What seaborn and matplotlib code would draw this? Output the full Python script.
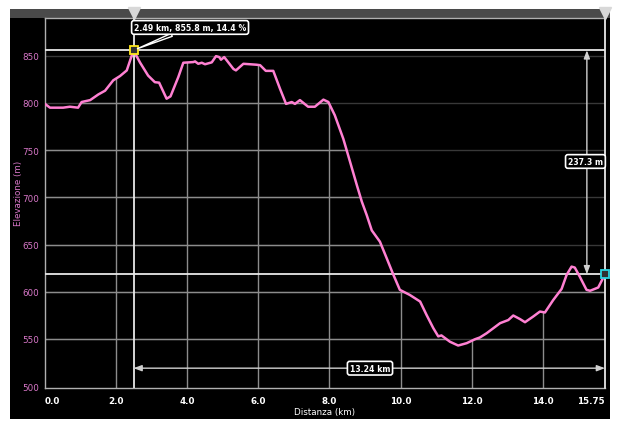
import numpy as np
import pandas as pd
import matplotlib
matplotlib.use('Agg')
import matplotlib.pyplot as plt
from matplotlib.patches import Rectangle, Polygon
import matplotlib.transforms as mtransforms
import seaborn as sns

# profilo altimetrico (km, m)
distanza = [0.00, 0.14, 0.51, 0.70, 0.93, 1.03, 1.27, 1.50, 1.69, 1.92, 2.11, 2.30, 2.49,
            2.67, 2.90, 3.09, 3.21, 3.42, 3.53, 3.75, 3.89, 4.17, 4.22, 4.31, 4.41, 4.50,
            4.69, 4.81, 4.90, 4.95, 5.04, 5.30, 5.37, 5.58, 5.95, 6.05, 6.21, 6.42, 6.61,
            6.78, 6.94, 7.03, 7.17, 7.40, 7.59, 7.83, 7.97, 8.15, 8.39, 8.58, 8.77, 8.91,
            9.05, 9.19, 9.42, 9.61, 9.80, 9.98, 10.26, 10.55, 10.73, 10.92, 11.06, 11.15,
            11.39, 11.62, 11.86, 12.09, 12.23, 12.42, 12.80, 13.03, 13.17, 13.36, 13.50,
            13.73, 13.92, 14.06, 14.29, 14.53, 14.67, 14.81, 14.90, 15.04, 15.23, 15.33,
            15.56, 15.75]
elevazione = [799, 795, 795, 796, 795, 801, 803, 809, 813, 824, 828.5, 834.5, 855.8,
              843, 829, 822, 821.5, 804.5, 807, 827.5, 842.6, 843.3, 844, 841.5, 842.6, 841,
              843, 849.6, 848.6, 845.8, 848.6, 836, 834.5, 841.5, 840.5, 840, 834, 834, 815,
              799, 801, 799, 803, 796, 796, 803.5, 801, 787, 762, 737.6, 713, 695.5,
              681, 665, 653, 635.5, 617.8, 602, 596.6, 589.6, 575.5, 561.5, 552.7, 553.7,
              547, 543, 545.5, 549.6, 551.5, 556, 566.7, 570, 574.8, 571, 567.7,
              573.7, 579, 578, 591, 603, 617.8, 626.6, 625.6, 616, 602, 601,
              604.5, 618.5]

x_ticks = [0, 2, 4, 6, 8, 10, 12, 14, 15.75]
x_labels = ['0.0', '2.0', '4.0', '6.0', '8.0', '10.0', '12.0', '14.0', '15.75']
y_ticks = [500, 550, 600, 650, 700, 750, 800, 850]

punto_sel = (2.49, 855.8)
punto_fine = (15.75, 618.5)
testo_sel = '2.49 km, 855.8 m, 14.4 %'
dislivello = '237.3 m'
distanza_sel = '13.24 km'

profilo = pd.DataFrame({'km': distanza, 'm': elevazione})

sns.set_theme(style='dark')
plt.rcParams['font.family'] = ['DejaVu Sans']

rosa = '#ff80d2'
rosa_testo = '#d877c8'
ymin, ymax = 498, 890

fig = plt.figure(figsize=(6.2, 4.31), dpi=100)
fig.patch.set_facecolor('white')
fig.patches.append(Rectangle((10/620, 1-420/431), 600/620, 410/431, transform=fig.transFigure,
                             facecolor='black', edgecolor='none', zorder=-10))
fig.patches.append(Rectangle((10/620, 1-19/431), 600/620, 9/431, transform=fig.transFigure,
                             facecolor='#4a4a4a', edgecolor='none', zorder=-9))

ax = fig.add_axes([45/620, 1-389/431, 560/620, 370/431])
ax.set_facecolor('black')
ax.set_xlim(0, 15.75)
ax.set_ylim(ymin, ymax)

# area sotto la curva per ritagliare la griglia chiara
poly = Polygon(np.column_stack([[0] + distanza + [15.75], [ymin] + elevazione + [ymin]]),
               closed=True, transform=ax.transData, facecolor='none', edgecolor='none')
ax.add_patch(poly)

for yv in y_ticks[1:]:
    ax.axhline(yv, color='#383838', lw=1, zorder=1)
    ln = ax.axhline(yv, color='#8c8c8c', lw=1, zorder=2)
    ln.set_clip_path(poly)
for xv in x_ticks[1:-1]:
    ln = ax.axvline(xv, color='#8c8c8c', lw=1, zorder=2)
    ln.set_clip_path(poly)

# linee di selezione
ax.axvline(punto_sel[0], color='#e8e8e8', lw=1.3, zorder=3)
ax.axhline(punto_sel[1], color='#e8e8e8', lw=1.3, zorder=3)
ax.axhline(punto_fine[1], color='#e8e8e8', lw=1.3, zorder=3)
ax.axvline(punto_fine[0], color='#e8e8e8', lw=1.3, zorder=3, clip_on=False)

sns.lineplot(data=profilo, x='km', y='m', color=rosa, lw=1.8, ax=ax, zorder=4)

ax.plot(*punto_sel, marker='s', ms=6, mfc='#303030', mec='#ffe81a', mew=1.3, zorder=6)
ax.plot(*punto_fine, marker='s', ms=6, mfc='#303030', mec='#2ad4e0', mew=1.3, zorder=6,
        clip_on=False)

# triangoli nella barra superiore
trans = mtransforms.blended_transform_factory(ax.transData, ax.transAxes)
ax.plot([punto_sel[0], punto_fine[0]], [1.0135, 1.0135], 'v', color='#d8d8d8', ms=8,
        transform=trans, clip_on=False, zorder=7)

fs_box = 5.6
bbox = dict(boxstyle='round,pad=0.3,rounding_size=0.3', fc='black', ec='white', lw=1.2)
ax.annotate(testo_sel, xy=punto_sel, xytext=(4.08, 880), ha='center', va='center',
            fontsize=fs_box, fontweight='bold', color='white', bbox=bbox, zorder=8,
            arrowprops=dict(arrowstyle='wedge,tail_width=0.4', fc='black', ec='white', lw=1,
                            shrinkA=0, shrinkB=3))

# dislivello
ax.annotate('', xy=(15.24, punto_sel[1]), xytext=(15.24, punto_fine[1]),
            arrowprops=dict(arrowstyle='<|-|>,head_length=0.4,head_width=0.15',
                            color='#d0d0d0', lw=1, shrinkA=0, shrinkB=0), zorder=5)
ax.text(15.20, 738, dislivello, ha='center', va='center', fontsize=fs_box, fontweight='bold',
        color='white', bbox=bbox, zorder=8)

# distanza
ax.annotate('', xy=(punto_sel[0], 519), xytext=(punto_fine[0], 519),
            arrowprops=dict(arrowstyle='<|-|>,head_length=0.4,head_width=0.15',
                            color='#d0d0d0', lw=1, shrinkA=0, shrinkB=0), zorder=5)
ax.text(9.14, 519, distanza_sel, ha='center', va='center', fontsize=fs_box, fontweight='bold',
        color='white', bbox=bbox, zorder=8)

ax.set_xticks(x_ticks)
ax.set_xticklabels(x_labels)
ax.set_yticks(y_ticks)
ax.grid(False)
ax.tick_params(axis='x', colors='#a0a0a0', labelcolor='white', labelsize=6.3, length=3, pad=3)
ax.tick_params(axis='y', colors='#a0a0a0', labelcolor=rosa_testo, labelsize=6.3, length=3, pad=1)
for lab in ax.get_xticklabels():
    lab.set_fontweight('bold')
ax.get_xticklabels()[-1].set_horizontalalignment('right')
ax.get_xticklabels()[0].set_horizontalalignment('left')
ax.set_xlabel('Distanza (km)', color='white', fontsize=6.3, labelpad=1)
ax.set_ylabel('Elevazione (m)', color=rosa_testo, fontsize=6.3)
ax.yaxis.set_label_coords(-0.04, 0.53)

ax.spines['right'].set_visible(False)
for s in ['left', 'bottom', 'top']:
    ax.spines[s].set_color('#b0b0b0')
    ax.spines[s].set_linewidth(1)

fig.savefig('out.png', dpi=100, facecolor='white')
